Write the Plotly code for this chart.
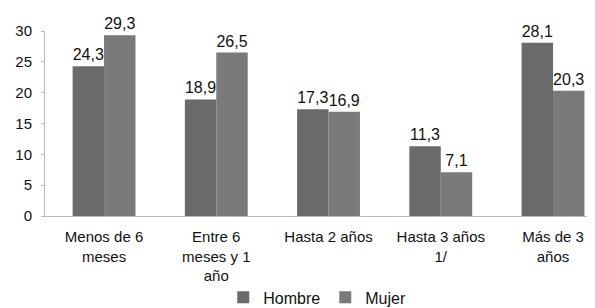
import plotly.graph_objects as go

categories = ["Menos de 6<br>meses", "Entre 6<br>meses y 1<br>año", "Hasta 2 años", "Hasta 3 años<br>1/", "Más de 3<br>años"]
hombre = [24.3, 18.9, 17.3, 11.3, 28.1]
mujer = [29.3, 26.5, 16.9, 7.1, 20.3]
hombre_txt = ["24,3", "18,9", "17,3", "11,3", "28,1"]
mujer_txt = ["29,3", "26,5", "16,9", "7,1", "20,3"]
y_ticks = [0, 5, 10, 15, 20, 25, 30]

font = dict(family="Liberation Sans, Arial, sans-serif", size=16, color="#111111")

fig = go.Figure()
fig.add_trace(go.Bar(name="Hombre", x=categories, y=hombre, text=hombre_txt,
                     textposition="outside", cliponaxis=False,
                     marker=dict(color="#6a6a6a", line=dict(width=0))))
fig.add_trace(go.Bar(name="Mujer", x=categories, y=mujer, text=mujer_txt,
                     textposition="outside", cliponaxis=False,
                     marker=dict(color="#7a7a7a", line=dict(width=0))))

fig.update_layout(
    width=587, height=300,
    margin=dict(l=37, r=0, t=23, b=92, autoexpand=False),
    paper_bgcolor="white", plot_bgcolor="white",
    font=font,
    barmode="group", bargap=0.44, bargroupgap=0,
    showlegend=True,
    legend=dict(orientation="h", x=0.495, xanchor="center", y=-0.44, yanchor="middle",
                font=dict(size=16), itemwidth=30, tracegroupgap=0,
                bgcolor="rgba(0,0,0,0)"),
    uniformtext=dict(minsize=16, mode="show"),
)
fig.update_xaxes(range=[-0.526, 4.374], showline=True, linecolor="#bbbbbb", linewidth=1,
                 showgrid=False, ticks="", tickfont=dict(size=15), automargin=False,
                 ticklabelstandoff=7)
fig.update_yaxes(range=[0, 30], tickvals=y_ticks, showline=True, linecolor="#bbbbbb",
                 linewidth=1, showgrid=False, ticks="outside", ticklen=3, tickcolor="#bbbbbb",
                 zeroline=False, tickfont=dict(size=15), automargin=False,
                 ticklabelstandoff=6)
fig.update_traces(textfont=dict(size=16, color="#111111"))

fig.write_html("out.html")
